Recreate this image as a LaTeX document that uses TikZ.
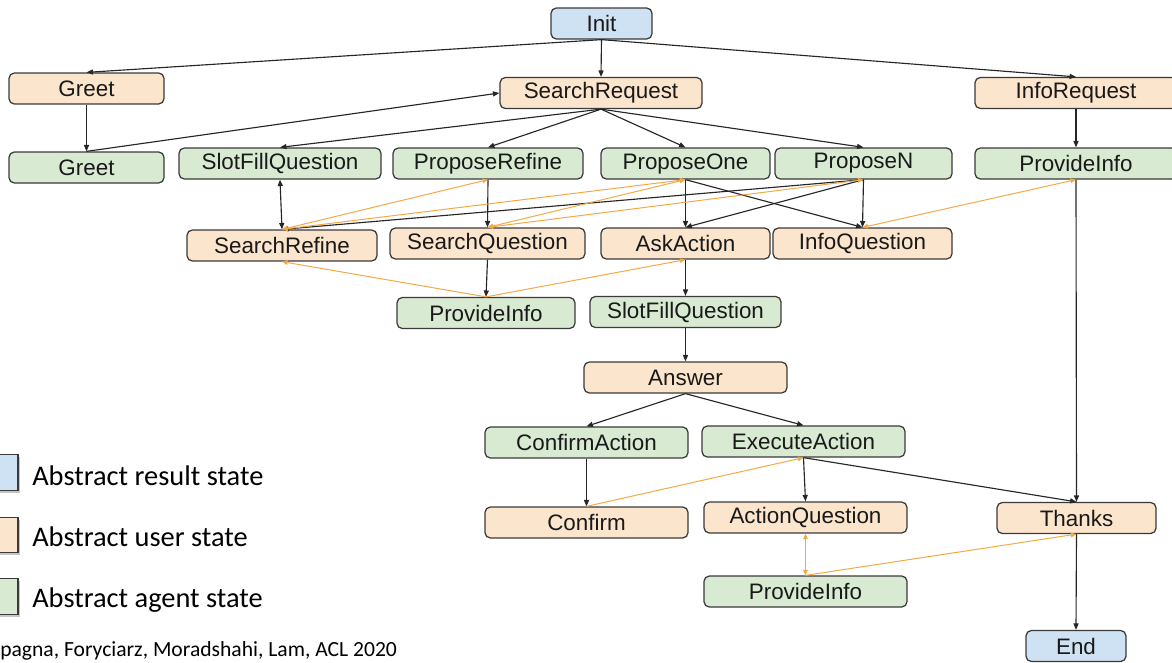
\documentclass[tikz,border=0pt]{standalone}
\usepackage{fontspec}
\setmainfont{Liberation Sans}
\newfontfamily\legendfont{Carlito}
\usetikzlibrary{arrows.meta,shadows}
\definecolor{userfill}{HTML}{FCE5CD}
\definecolor{agentfill}{HTML}{D9EAD3}
\definecolor{resultfill}{HTML}{CFE2F3}
\definecolor{edgeorange}{HTML}{F4A947}
\definecolor{boxline}{HTML}{3A3A3A}
\begin{document}
\begin{tikzpicture}[x=0.75pt,y=-0.75pt,
  state/.style={draw=boxline, line width=0.95pt, rounded corners=4pt,
    minimum height=23.25pt, inner sep=0pt,
    font=\fontsize{16.8}{20}\selectfont, text=black!90},
  user/.style={state, fill=userfill},
  agent/.style={state, fill=agentfill},
  result/.style={state, fill=resultfill},
  arr/.style={-{Triangle[length=4.8pt,width=3.8pt]}, line width=0.85pt, draw=black!85},
  darr/.style={{Triangle[length=4.8pt,width=3.8pt]}-{Triangle[length=4.8pt,width=3.8pt]}, line width=0.85pt, draw=black!85},
  oarr/.style={-{Triangle[length=4.2pt,width=3.5pt]}, line width=0.75pt, draw=edgeorange},
  odarr/.style={{Triangle[length=4.2pt,width=3.5pt]}-{Triangle[length=4.2pt,width=3.5pt]}, line width=0.75pt, draw=edgeorange},
  legbox/.style={draw=boxline, line width=0.9pt, minimum width=24pt, minimum height=26.5pt,
    inner sep=0pt, drop shadow={shadow xshift=1.8pt, shadow yshift=-1.8pt, opacity=0.45}},
  legtext/.style={anchor=base west, inner sep=0pt, font=\legendfont\fontsize{21.3}{26}\selectfont},
]
\useasboundingbox (0,0) rectangle (1172,662);

% nodes
\node[result, minimum width=75.75pt]  (Init)     at (601.5,23.5) {Init};
\node[user,   minimum width=116.25pt] (GreetU)   at (86.5,88.5)  {Greet};
\node[user,   minimum width=151.5pt]  (SReq)     at (601,93)     {SearchRequest};
\node[user,   minimum width=151.5pt]  (IReq)     at (1076,93)    {InfoRequest};
\node[agent,  minimum width=116.25pt] (GreetA)   at (86.5,167.5) {Greet};
\node[agent,  minimum width=151.5pt]  (SlotA)    at (280,163.5)  {SlotFillQuestion};
\node[agent,  minimum width=142.5pt]  (PRef)     at (488,163.5)  {ProposeRefine};
\node[agent,  minimum width=126.75pt] (POne)     at (685.5,163.5){ProposeOne};
\node[agent,  minimum width=132.75pt] (PN)       at (863.5,163.5){ProposeN};
\node[agent,  minimum width=151.5pt]  (PInfoA)   at (1076,163.5) {ProvideInfo};
\node[user,   minimum width=142.5pt]  (SRef)     at (282,245.5)  {SearchRefine};
\node[user,   minimum width=146.25pt] (SQ)       at (487.5,243.5){SearchQuestion};
\node[user,   minimum width=126.75pt] (Ask)      at (685.5,243.5){AskAction};
\node[user,   minimum width=134.25pt] (IQ)       at (862.5,243.5){InfoQuestion};
\node[agent,  minimum width=133.5pt]  (PInfoB)   at (486,313)    {ProvideInfo};
\node[agent,  minimum width=143.25pt] (SlotB)    at (685.5,312)  {SlotFillQuestion};
\node[user,   minimum width=152.25pt] (Ans)      at (685.5,377.5){Answer};
\node[agent,  minimum width=152.25pt] (ConfA)    at (586.5,442.5){ConfirmAction};
\node[agent,  minimum width=152.25pt] (ExecA)    at (803.5,441.5){ExecuteAction};
\node[user,   minimum width=152.25pt] (Conf)     at (586.5,522.5){Confirm};
\node[user,   minimum width=152.25pt] (ActQ)     at (805.5,517.5){ActionQuestion};
\node[agent,  minimum width=152.25pt] (PInfoC)   at (805.5,591.5){ProvideInfo};
\node[user,   minimum width=119.25pt] (Thanks)   at (1076.5,518) {Thanks};
\node[result, minimum width=75pt]     (End)      at (1076,646)   {End};

% black transitions
\draw[arr] (Init.south) -- (GreetU.north);
\draw[arr] (Init.south) -- (SReq.north);
\draw[arr] (Init.south) -- (IReq.north);
\draw[arr] (GreetU.south) -- (GreetA.north);
\draw[arr] (GreetA.north) -- (SReq.west);
\draw[arr] (SReq.south) -- (SlotA.north);
\draw[arr] (SReq.south) -- (PRef.north);
\draw[arr] (SReq.south) -- (POne.north);
\draw[arr] (SReq.south) -- (PN.north);
\draw[arr] (IReq.south) -- (PInfoA.north);
\draw[darr] (SlotA.south) -- (SRef.north);
\draw[arr] (PRef.south) -- (SQ.north);
\draw[arr] (POne.south) -- (Ask.north);
\draw[arr] (POne.south) -- (IQ.north);
\draw[arr] (PN.south) -- (Ask.north);
\draw[arr] (PN.south) -- (IQ.north);
\draw[arr] (PN.south) -- (SRef.north);
\draw[arr] (SQ.south) -- (PInfoB.north);
\draw[arr] (Ask.south) -- (SlotB.north);
\draw[arr] (SlotB.south) -- (Ans.north);
\draw[arr] (Ans.south) -- (ConfA.north);
\draw[arr] (Ans.south) -- (ExecA.north);
\draw[arr] (ConfA.south) -- (Conf.north);
\draw[arr] (ExecA.south) -- (ActQ.north);
\draw[arr] (ExecA.south) -- (Thanks.north);
\draw[arr] (PInfoA.south) -- (Thanks.north);
\draw[arr] (Thanks.south) -- (End.north);

% orange transitions
\draw[odarr] (SRef.north) -- (PRef.south);
\draw[odarr] (SRef.north) -- (POne.south);
\draw[odarr] (SQ.north) -- (POne.south);
\draw[odarr] (SQ.north) -- (PN.south);
\draw[odarr] (IQ.north) -- (PInfoA.south);
\draw[oarr] (PInfoB.north) -- (SRef.south);
\draw[oarr] (PInfoB.north) -- (Ask.south);
\draw[oarr] (Conf.north) -- (ExecA.south);
\draw[odarr] (PInfoC.north) -- (ActQ.south);
\draw[oarr] (PInfoC.north) -- (Thanks.south);

% legend
\node[legbox, fill=resultfill] (LegR) at (2,472.5) {};
\node[legbox, fill=userfill]   (LegU) at (2,535) {};
\node[legbox, fill=agentfill]  (LegA) at (2,596.5) {};
\node[legtext] (LegRT) at (32,485) {Abstract result state};
\node[legtext] (LegUT) at (32,546) {Abstract user state};
\node[legtext] (LegAT) at (32,607) {Abstract agent state};

% citation
\node[anchor=base west, inner sep=0pt, font=\legendfont\fontsize{16.2}{19}\selectfont] (Cite) at (0,656) {pagna, Foryciarz, Moradshahi, Lam, ACL 2020};
\end{tikzpicture}
\end{document}
